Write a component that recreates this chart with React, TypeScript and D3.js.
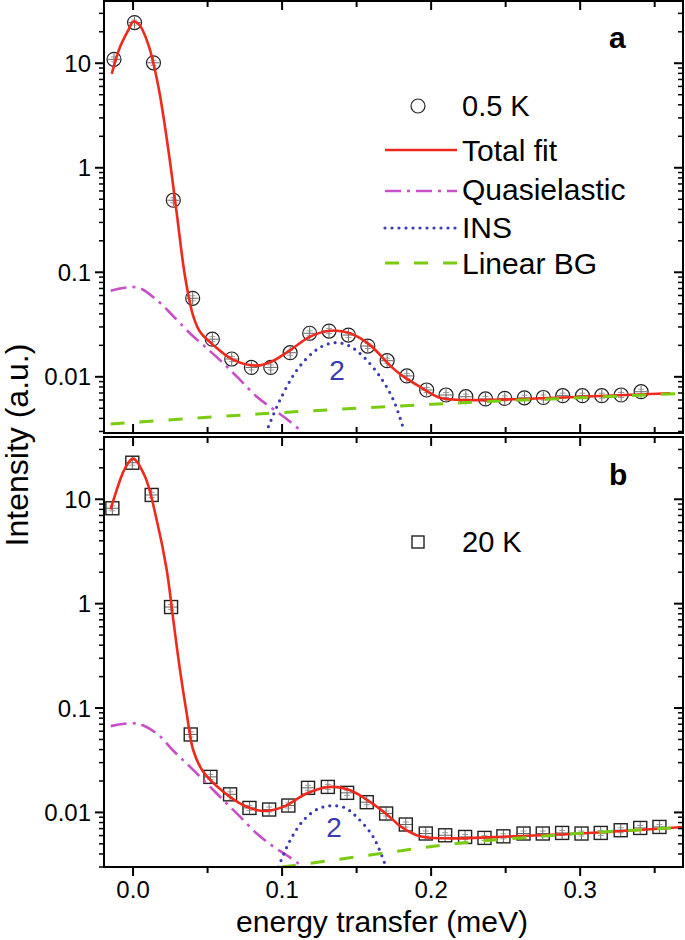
import React from "react";
import * as d3 from "d3";

// ---------- data ----------
const xTicksMajor = [0.0, 0.1, 0.2, 0.3];
const xTicksMinor = [0.05, 0.15, 0.25, 0.35];
const yTickLabels = ["0.01", "0.1", "1", "10"];
const yTickValues = [0.01, 0.1, 1, 10];

// panel a (0.5 K)
const aPointsX = [-0.0128, 0.001, 0.0137, 0.027, 0.040, 0.0532, 0.0662, 0.0794, 0.0924, 0.1054, 0.1185, 0.1315, 0.1445, 0.1575, 0.1705, 0.1837, 0.197, 0.210, 0.2233, 0.2365, 0.2494, 0.2626, 0.2753, 0.2883, 0.3015, 0.3145, 0.3275, 0.3409];
const aPointsY = [10.9, 24.5, 10.1, 0.489, 0.0564, 0.0229, 0.0148, 0.0123, 0.0123, 0.0170, 0.0261, 0.0274, 0.0251, 0.0197, 0.01426, 0.0102, 0.00748, 0.0067, 0.00645, 0.00614, 0.00622, 0.0063, 0.00634, 0.0066, 0.0066, 0.0066, 0.0067, 0.0072];

const aFitX = [-0.0143, -0.0087, -0.003, 0.0, 0.004, 0.0103, 0.017, 0.0237, 0.0293, 0.0349, 0.0405, 0.0449, 0.0539, 0.0673, 0.083, 0.0931, 0.1054, 0.1188, 0.132, 0.1456, 0.159, 0.1725, 0.1792, 0.1926, 0.206, 0.2217, 0.255, 0.300, 0.3604];
const aFitY = [7.9, 14.4, 21, 25, 23.5, 15, 5.97, 1.48, 0.367, 0.0908, 0.0376, 0.027, 0.0201, 0.0145, 0.0128, 0.014, 0.018, 0.0242, 0.0276, 0.0261, 0.0201, 0.0128, 0.0106, 0.008, 0.0063, 0.006, 0.0061, 0.00645, 0.00695];

const aQuasiX = [-0.015, 0.0025, 0.0159, 0.027, 0.0383, 0.0494, 0.0606, 0.0718, 0.083, 0.0942, 0.1054, 0.1143];
const aQuasiY = [0.0667, 0.0718, 0.0543, 0.038, 0.026, 0.0188, 0.01346, 0.00934, 0.00645, 0.00489, 0.00372, 0.0029];

const aInsX = [0.0908, 0.0986, 0.1099, 0.121, 0.129, 0.1367, 0.145, 0.1546, 0.1658, 0.1747, 0.1814];
const aInsY = [0.00333, 0.006, 0.0116, 0.0172, 0.0202, 0.0212, 0.0198, 0.01556, 0.010, 0.006, 0.0032];

const aBgX = [-0.015, 0.05, 0.1, 0.15, 0.2, 0.25, 0.3, 0.365];
const aBgY = [0.00353, 0.0041, 0.00455, 0.005, 0.00545, 0.0059, 0.0063, 0.0069];

// panel b (20 K)
const bPointsX = [-0.0139, -0.0005, 0.0125, 0.0255, 0.0387, 0.0519, 0.0651, 0.0781, 0.0913, 0.1042, 0.1174, 0.1307, 0.1436, 0.1568, 0.1698, 0.183, 0.1964, 0.2094, 0.2228, 0.2358, 0.2485, 0.262, 0.2749, 0.2879, 0.3009, 0.3138, 0.3272, 0.3403, 0.3532];
const bPointsY = [8.2, 22.4, 11, 0.928, 0.0558, 0.0219, 0.0149, 0.01104, 0.01066, 0.01164, 0.0172, 0.01755, 0.0154, 0.01253, 0.00976, 0.00766, 0.00628, 0.00604, 0.00582, 0.0057, 0.0059, 0.00628, 0.00628, 0.00636, 0.00628, 0.00636, 0.00675, 0.0071, 0.00726];

const bFitX = [-0.0151, -0.0087, -0.0054, 0.0, 0.008, 0.0159, 0.0226, 0.027, 0.0315, 0.036, 0.0404, 0.0471, 0.0606, 0.074, 0.0874, 0.1008, 0.1165, 0.1322, 0.1456, 0.159, 0.1725, 0.1792, 0.1926, 0.2104, 0.255, 0.300, 0.369];
const bFitY = [8.0, 15.3, 19.8, 24.5, 16.5, 6.3, 2.1, 0.697, 0.231, 0.0887, 0.0394, 0.0245, 0.01574, 0.01172, 0.01033, 0.0113, 0.0152, 0.01755, 0.0163, 0.0126, 0.009, 0.0074, 0.0059, 0.00565, 0.0059, 0.00628, 0.00726];

const bQuasiX = [-0.015, 0.0025, 0.0159, 0.027, 0.0383, 0.0494, 0.0606, 0.0718, 0.083, 0.0942, 0.1031, 0.111, 0.1145];
const bQuasiY = [0.0671, 0.0711, 0.057, 0.039, 0.0273, 0.019, 0.0131, 0.0091, 0.00628, 0.0047, 0.00389, 0.00323, 0.0029];

const bInsX = [0.0975, 0.1054, 0.1143, 0.124, 0.133, 0.142, 0.150, 0.1612, 0.169];
const bInsY = [0.003, 0.0054, 0.0084, 0.0108, 0.0116, 0.0111, 0.00906, 0.00582, 0.0032];

const bBgX = [0.1, 0.135, 0.18, 0.22, 0.26, 0.3, 0.369];
const bBgY = [0.003, 0.0035, 0.0043, 0.0051, 0.0057, 0.0063, 0.0072];

// ---------- styles ----------
const FONT = "'Liberation Sans', Arial, Helvetica, sans-serif";
const RED = "#ef2a1c";
const MAGENTA = "#c94fc9";
const BLUE = "#3a3ab4";
const GREEN = "#7acc12";

const LEFT = 104;
const RIGHT = 683;

const xScale = d3.scaleLinear().domain([-0.0195, 0.369]).range([LEFT, RIGHT]);

const zip = (xs: number[], ys: number[]) => xs.map((x, i) => [x, ys[i]] as [number, number]);

type PanelProps = {
  id: string;
  top: number;
  bottom: number;
  yDomain: [number, number];
  marker: "circle" | "square";
  pts: [number, number][];
  fit: [number, number][];
  quasi: [number, number][];
  ins: [number, number][];
  bg: [number, number][];
  outerBottom: boolean;
};

function Panel(p: PanelProps) {
  const y = d3.scaleLog().domain(p.yDomain).range([p.bottom, p.top]);
  const line = d3
    .line<[number, number]>()
    .x((d) => xScale(d[0]))
    .y((d) => y(d[1]))
    .curve(d3.curveCatmullRom.alpha(0.5));

  const minor: number[] = [];
  for (let e = -3; e <= 1; e++) {
    for (let m = 2; m <= 9; m++) {
      const v = m * Math.pow(10, e);
      if (v >= p.yDomain[0] && v <= p.yDomain[1]) minor.push(v);
    }
  }
  const clipId = "clip-" + p.id;
  const tickMajor = 9;
  const tickMinor = 5;

  return (
    <g>
      <defs>
        <clipPath id={clipId}>
          <rect x={LEFT} y={p.top} width={RIGHT - LEFT} height={p.bottom - p.top} />
        </clipPath>
      </defs>
      {/* markers */}
      <g>
        {p.pts.map((d, i) => {
          const cx = xScale(d[0]);
          const cy = y(d[1]);
          return (
            <g key={i}>
              <line x1={cx} x2={cx} y1={cy - 6} y2={cy + 6} stroke="#666" strokeWidth={1} />
              <line x1={cx - 6} x2={cx + 6} y1={cy} y2={cy} stroke="#666" strokeWidth={1} />
              <line x1={cx - 3} x2={cx + 3} y1={cy - 2.5} y2={cy - 2.5} stroke="#888" strokeWidth={0.8} />
              <line x1={cx - 3} x2={cx + 3} y1={cy + 2.5} y2={cy + 2.5} stroke="#888" strokeWidth={0.8} />
              {p.marker === "circle" ? (
                <circle cx={cx} cy={cy} r={7} fill="none" stroke="#222" strokeWidth={1.2} />
              ) : (
                <rect x={cx - 6.5} y={cy - 6.5} width={13} height={13} fill="none" stroke="#222" strokeWidth={1.4} />
              )}
            </g>
          );
        })}
      </g>
      <g clipPath={`url(#${clipId})`}>
        <path d={line(p.fit) || ""} fill="none" stroke={RED} strokeWidth={2.6} />
        <path d={line(p.quasi) || ""} fill="none" stroke={MAGENTA} strokeWidth={2.6} strokeDasharray="16 6 3 6" />
        <path d={line(p.ins) || ""} fill="none" stroke={BLUE} strokeWidth={3.2} strokeDasharray="0 7" strokeLinecap="round" />
        <path d={line(p.bg) || ""} fill="none" stroke={GREEN} strokeWidth={3} strokeDasharray="14 15" />
      </g>
      {/* frame */}
      <rect x={LEFT} y={p.top} width={RIGHT - LEFT} height={p.bottom - p.top} fill="none" stroke="#000" strokeWidth={2} />
      {/* y ticks left (outward) and right (inward) */}
      {yTickValues.map((v) => (
        <g key={"yM" + v}>
          <line x1={LEFT - tickMajor} x2={LEFT} y1={y(v)} y2={y(v)} stroke="#000" strokeWidth={2} />
          <line x1={RIGHT - tickMajor} x2={RIGHT} y1={y(v)} y2={y(v)} stroke="#000" strokeWidth={2} />
        </g>
      ))}
      {minor.map((v) => (
        <g key={"ym" + v}>
          <line x1={LEFT - tickMinor} x2={LEFT} y1={y(v)} y2={y(v)} stroke="#000" strokeWidth={1.5} />
          <line x1={RIGHT - tickMinor} x2={RIGHT} y1={y(v)} y2={y(v)} stroke="#000" strokeWidth={1.5} />
        </g>
      ))}
      {yTickValues.map((v, i) => (
        <text key={"yl" + v} x={91} y={y(v)} dy="0.36em" textAnchor="end" fontFamily={FONT} fontSize={24} fill="#000">
          {yTickLabels[i]}
        </text>
      ))}
      {/* x ticks */}
      {xTicksMajor.concat(xTicksMinor).map((v) => {
        const isMajor = xTicksMajor.includes(v);
        const len = isMajor ? tickMajor : 6;
        const xx = xScale(v);
        return (
          <g key={"x" + v}>
            <line x1={xx} x2={xx} y1={p.top} y2={p.top + len} stroke="#000" strokeWidth={2} />
            {p.outerBottom ? (
              <line x1={xx} x2={xx} y1={p.bottom} y2={p.bottom + len} stroke="#000" strokeWidth={2} />
            ) : (
              <line x1={xx} x2={xx} y1={p.bottom - len} y2={p.bottom} stroke="#000" strokeWidth={2} />
            )}
          </g>
        );
      })}
    </g>
  );
}

export default function App() {
  const legendItems = [
    { label: "Total fit", color: RED, dash: "", w: 2.6, cap: "butt", ly: 150, ty: 161 },
    { label: "Quasielastic", color: MAGENTA, dash: "16 6 3 6", w: 2.6, cap: "butt", ly: 191, ty: 200 },
    { label: "INS", color: BLUE, dash: "0 7", w: 3.2, cap: "round", ly: 228, ty: 238 },
    { label: "Linear BG", color: GREEN, dash: "14 15", w: 3, cap: "butt", ly: 263, ty: 274 },
  ];
  return (
    <svg width={685} height={940} style={{ position: "absolute", left: 0, top: 0, background: "#fff" }}>
      <rect x={0} y={0} width={685} height={940} fill="#fff" />
      <Panel
        id="a"
        top={1}
        bottom={433}
        yDomain={[0.0029, 39.4]}
        marker="circle"
        pts={zip(aPointsX, aPointsY)}
        fit={zip(aFitX, aFitY)}
        quasi={zip(aQuasiX, aQuasiY)}
        ins={zip(aInsX, aInsY)}
        bg={zip(aBgX, aBgY)}
        outerBottom={false}
      />
      <Panel
        id="b"
        top={437}
        bottom={867}
        yDomain={[0.003, 39.5]}
        marker="square"
        pts={zip(bPointsX, bPointsY)}
        fit={zip(bFitX, bFitY)}
        quasi={zip(bQuasiX, bQuasiY)}
        ins={zip(bInsX, bInsY)}
        bg={zip(bBgX, bBgY)}
        outerBottom={true}
      />
      {/* "2" labels */}
      <text x={337} y={380} textAnchor="middle" fontFamily={FONT} fontSize={28} fill={BLUE}>2</text>
      <text x={334} y={837} textAnchor="middle" fontFamily={FONT} fontSize={28} fill={BLUE}>2</text>
      {/* panel labels */}
      <text x={609} y={48} fontFamily={FONT} fontSize={30} fontWeight="bold" fill="#000">a</text>
      <text x={609} y={485} fontFamily={FONT} fontSize={30} fontWeight="bold" fill="#000">b</text>
      {/* legend a */}
      <circle cx={418} cy={106} r={7} fill="none" stroke="#222" strokeWidth={1.2} />
      <text x={462} y={116} fontFamily={FONT} fontSize={29} fill="#000">0.5 K</text>
      {legendItems.map((it) => (
        <g key={it.label}>
          <line x1={385} x2={457} y1={it.ly} y2={it.ly} stroke={it.color} strokeWidth={it.w}
            strokeDasharray={it.dash || undefined} strokeLinecap={it.cap as any} />
          <text x={462} y={it.ty} fontFamily={FONT} fontSize={30} fill="#000">{it.label}</text>
        </g>
      ))}
      {/* legend b */}
      <rect x={412} y={536} width={12} height={12} fill="none" stroke="#222" strokeWidth={1.4} />
      <text x={462} y={552} fontFamily={FONT} fontSize={29} fill="#000">20 K</text>
      {/* x tick labels */}
      {xTicksMajor.map((v) => (
        <text key={"xl" + v} x={xScale(v)} y={898} textAnchor="middle" fontFamily={FONT} fontSize={24} fill="#000">
          {v.toFixed(1)}
        </text>
      ))}
      {/* axis titles */}
      <text x={382} y={932} textAnchor="middle" fontFamily={FONT} fontSize={30} fill="#000">energy transfer (meV)</text>
      <text transform="translate(28,445) rotate(-90)" textAnchor="middle" fontFamily={FONT} fontSize={32} fill="#000">
        Intensity (a.u.)
      </text>
    </svg>
  );
}
